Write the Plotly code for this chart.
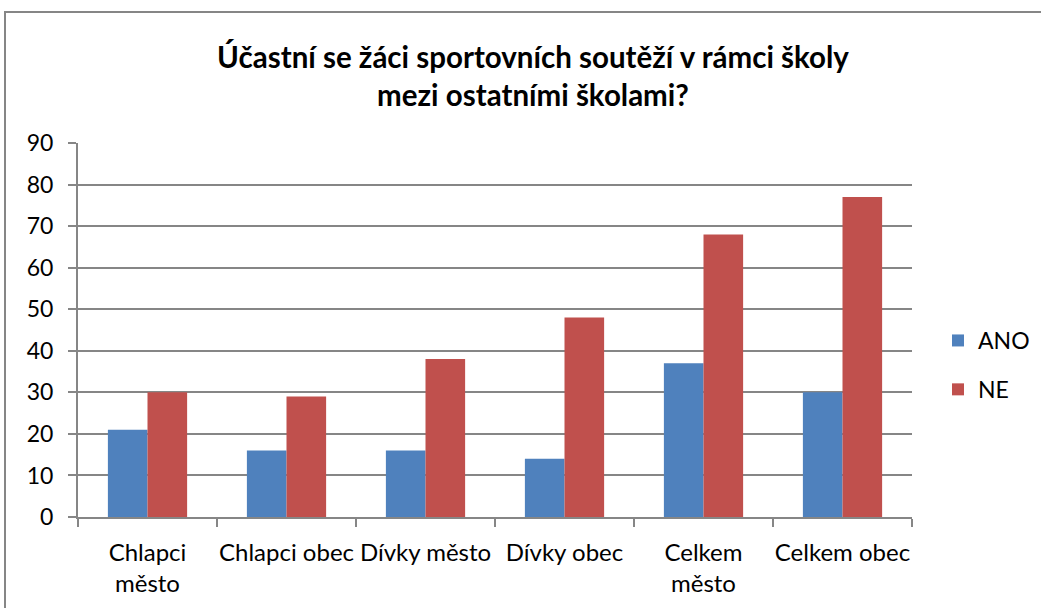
import plotly.graph_objects as go

categories = ["Chlapci<br>město", "Chlapci obec", "Dívky město", "Dívky obec", "Celkem<br>město", "Celkem obec"]
ano = [21, 16, 16, 14, 37, 30]
ne = [30, 29, 38, 48, 68, 77]
y_ticks = list(range(0, 91, 10))
title = "Účastní se žáci sportovních soutěží v rámci školy<br>mezi ostatními školami?"

FONT = "Lato"
L, R, T, B = 78, 129, 143, 91
W, H = 1041, 608
pw, ph = W - L - R, H - T - B

fig = go.Figure()
fig.add_trace(go.Bar(x=categories, y=ano, name="ANO", marker=dict(color="#4F81BD", line=dict(width=0)),
                     legendgroup="a"))
fig.add_trace(go.Bar(x=categories, y=ne, name="NE", marker=dict(color="#C0504D", line=dict(width=0)),
                     legendgroup="b"))

fig.update_layout(
    width=W, height=H,
    margin=dict(l=L, r=R, t=T, b=B, autoexpand=False),
    paper_bgcolor="white", plot_bgcolor="white",
    barmode="group", bargap=0.43, bargroupgap=0,
    font=dict(family=FONT, size=23, color="#000000"),
    title=dict(text=title, x=533 / W, xanchor="center", y=1 - 68 / H, yanchor="middle",
               font=dict(family=FONT, size=29.5, color="#000000", weight="bold")),
    legend=dict(x=(938 - L) / pw, xanchor="left", y=(H - B - 365) / ph, yanchor="middle",
                tracegroupgap=16, font=dict(size=23), itemwidth=30,
                bgcolor="rgba(0,0,0,0)"),
    showlegend=True,
)
fig.update_xaxes(showline=True, linecolor="#868686", linewidth=2, ticks="outside", tickson="boundaries",
                 ticklen=8, tickcolor="#868686", tickwidth=2, showgrid=False, ticklabelstandoff=13,
                 tickangle=0, tickfont=dict(size=24))
fig.update_yaxes(range=[0, 90], tickvals=y_ticks, showline=True, linecolor="#868686", linewidth=2,
                 ticks="outside", ticklen=8, tickcolor="#868686", tickwidth=2,
                 showgrid=True, gridcolor="#868686", gridwidth=1.5, zeroline=False,
                 ticklabelstandoff=10)

# outer chart border
fig.add_shape(type="rect", xref="paper", yref="paper",
              x0=(5 - L) / pw, x1=(W + 20 - L) / pw,
              y0=-(B + 20) / ph, y1=(H - B - 12) / ph,
              line=dict(color="#868686", width=2), fillcolor="rgba(0,0,0,0)", layer="below")

fig.write_html("out.html", config={"displayModeBar": False},
               post_script="document.body.style.margin='0';")
